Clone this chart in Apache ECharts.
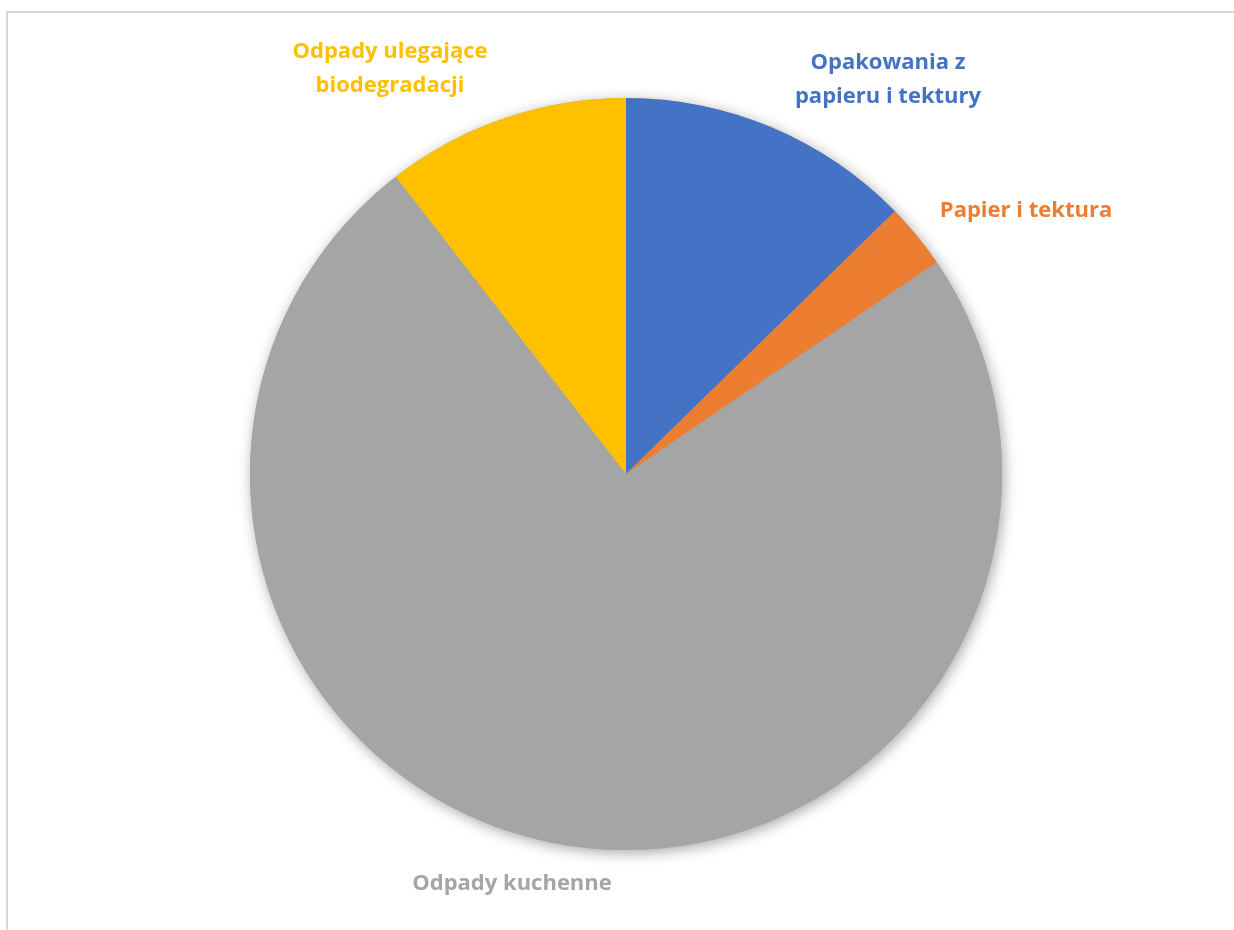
<!DOCTYPE html>
<html>
<head>
<meta charset="utf-8">
<script src="https://cdn.jsdelivr.net/npm/echarts@6/dist/echarts.min.js"></script>
<style>
html,body{margin:0;padding:0;background:#fff;}
#chart{width:1234px;height:930px;}
</style>
</head>
<body>
<div id="chart"></div>
<script>
const categories = ['Opakowania z\npapieru i tektury', 'Papier i tektura', 'Odpady kuchenne', 'Odpady ulegające\nbiodegradacji'];
const values = [12.7, 2.8, 74.1, 10.5];
const colors = ['#4472C4', '#ED7D31', '#A5A5A5', '#FFC000'];
// label anchor points (layout styling, not data)
const labelAnchors = [[888, 80], [1026, 211], [512, 884], [390, 69]];

const chart = echarts.init(document.getElementById('chart'), null, {renderer: 'canvas'});
const pieData = categories.map((c, i) => ({
  name: c,
  value: values[i],
  itemStyle: {color: colors[i]},
  label: {color: colors[i]}
}));

chart.setOption({
  animation: false,
  backgroundColor: '#fff',
  graphic: [{
    type: 'rect',
    shape: {x: 7, y: 12, width: 1240, height: 930},
    style: {fill: 'none', stroke: '#D9D9D9', lineWidth: 2},
    silent: true,
    z: -10
  }],
  series: [
    {
      type: 'pie',
      silent: true,
      center: [626, 474],
      radius: 376,
      z: 1,
      label: {show: false},
      labelLine: {show: false},
      itemStyle: {color: '#A5A5A5', shadowBlur: 14, shadowColor: 'rgba(0,0,0,0.35)', shadowOffsetX: 2, shadowOffsetY: 3},
      data: [{value: 1, name: ''}]
    },
    {
      type: 'pie',
      center: [626, 474],
      radius: 376,
      startAngle: 90,
      clockwise: true,
      z: 2,
      itemStyle: {borderWidth: 0},
      label: {
        show: true,
        position: 'outside',
        formatter: '{b}',
        fontFamily: 'Open Sans',
        fontWeight: 'bold',
        fontSize: 22,
        lineHeight: 34,
        align: 'center'
      },
      labelLine: {show: false},
      labelLayout: function (p) {
        const a = labelAnchors[p.dataIndex];
        return {x: a[0], y: a[1], align: 'center', verticalAlign: 'middle', hideOverlap: false, moveOverlap: null};
      },
      data: pieData
    }
  ]
});
</script>
</body>
</html>
